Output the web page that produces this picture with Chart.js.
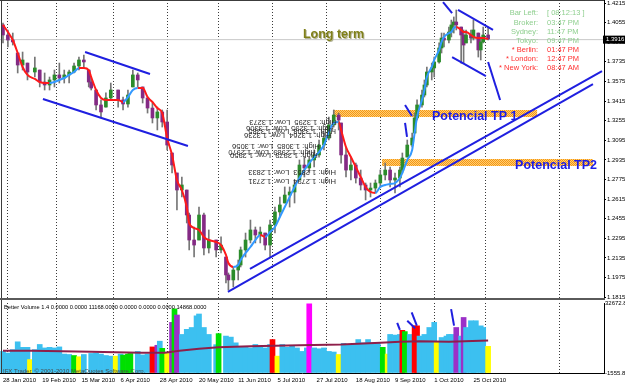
<!DOCTYPE html>
<html lang="en">
<head>
<meta charset="UTF-8" />
<title>EURUSD Daily</title>
<style>
  * { box-sizing: border-box; margin: 0; padding: 0; }
  html, body { width: 625px; height: 387px; background: #fff; overflow: hidden; }
  #price-wrap { position: absolute; left: 0; top: 0; width: 625px; height: 300px; }
  #vol-wrap { position: absolute; left: 0; top: 300px; width: 625px; height: 87px; }
</style>
<script src="https://cdn.jsdelivr.net/npm/chart.js@4/dist/chart.umd.min.js"></script>
</head>
<body>
<div id="price-wrap"><canvas id="priceChart" width="625" height="300"></canvas></div>
<div id="vol-wrap"><canvas id="volChart" width="625" height="87"></canvas></div>
<script>
  // --- price bars (day index from 28 Jan 2010) ---
  const days = [0, 2, 4, 6, 8, 10, 13, 15, 17, 19,
    21, 23, 25, 27, 29, 31, 33, 35, 36, 38,
    40, 42, 44, 47, 49, 51, 53, 55, 57, 59,
    61, 63, 65, 67, 69, 71, 73, 75, 76, 78,
    80, 82, 84, 87, 89, 91, 92, 94, 96, 97,
    99, 101, 103, 105, 107, 109, 111, 113, 115, 117,
    119, 121, 123, 125, 127, 129, 131, 133, 135, 137,
    138, 140, 142, 144, 146, 148, 150, 152, 154, 156,
    158, 160, 162, 163, 165, 167, 168, 169, 171, 172,
    173, 175, 176, 178, 179, 180, 182, 183, 184, 185,
    187, 188, 189, 191, 192, 194, 195, 196, 198];
  const highs = [1.4052, 1.3995, 1.3970, 1.3807, 1.3815, 1.3725, 1.3774, 1.3668, 1.3644, 1.3611,
    1.3668, 1.3725, 1.3668, 1.3668, 1.3725, 1.3774, 1.3791, 1.3668, 1.3611, 1.3505,
    1.3424, 1.3481, 1.3562, 1.3505, 1.3448, 1.3505, 1.3668, 1.3644, 1.3530, 1.3448,
    1.3399, 1.3366, 1.3342, 1.3342, 1.2991, 1.2828, 1.2795, 1.2689, 1.2501, 1.2387,
    1.2550, 1.2501, 1.2363, 1.2281, 1.2306, 1.2142, 1.2012, 1.2061, 1.2118, 1.2224,
    1.2338, 1.2444, 1.2387, 1.2387, 1.2338, 1.2444, 1.2550, 1.2632, 1.2714, 1.2714,
    1.2771, 1.2934, 1.2958, 1.2958, 1.3016, 1.3097, 1.3154, 1.3285, 1.3342, 1.3317,
    1.3236, 1.3040, 1.2958, 1.2909, 1.2852, 1.2746, 1.2746, 1.2771, 1.2852, 1.2909,
    1.2877, 1.2828, 1.2877, 1.2991, 1.3097, 1.3154, 1.3317, 1.3424, 1.3505, 1.3587,
    1.3693, 1.3725, 1.3774, 1.3889, 1.3970, 1.3970, 1.4019, 1.4076, 1.4101, 1.4158,
    1.4019, 1.3995, 1.3995, 1.3995, 1.4076, 1.3970, 1.3938, 1.4019, 1.4019];
  const lows = [1.3889, 1.3856, 1.3872, 1.3644, 1.3668, 1.3587, 1.3611, 1.3530, 1.3505, 1.3505,
    1.3530, 1.3562, 1.3562, 1.3562, 1.3644, 1.3668, 1.3685, 1.3530, 1.3505, 1.3342,
    1.3277, 1.3366, 1.3424, 1.3366, 1.3342, 1.3366, 1.3530, 1.3530, 1.3399, 1.3317,
    1.3236, 1.3179, 1.3203, 1.3016, 1.2828, 1.2526, 1.2632, 1.2420, 1.2200, 1.2142,
    1.2281, 1.2159, 1.2175, 1.2142, 1.2175, 1.1930, 1.1873, 1.1898, 1.1955, 1.2061,
    1.2142, 1.2257, 1.2257, 1.2257, 1.2200, 1.2142, 1.2338, 1.2469, 1.2583, 1.2550,
    1.2583, 1.2771, 1.2795, 1.2828, 1.2877, 1.2958, 1.3016, 1.3097, 1.3203, 1.3179,
    1.2909, 1.2795, 1.2771, 1.2746, 1.2689, 1.2608, 1.2632, 1.2665, 1.2714, 1.2771,
    1.2714, 1.2665, 1.2714, 1.2828, 1.2958, 1.3040, 1.3154, 1.3260, 1.3366, 1.3448,
    1.3530, 1.3587, 1.3611, 1.3725, 1.3807, 1.3856, 1.3889, 1.3938, 1.3970, 1.3995,
    1.3725, 1.3725, 1.3889, 1.3889, 1.3913, 1.3774, 1.3750, 1.3889, 1.3913];
  const closes = [1.3954, 1.3913, 1.3897, 1.3709, 1.3750, 1.3652, 1.3685, 1.3570, 1.3546, 1.3587,
    1.3628, 1.3603, 1.3628, 1.3652, 1.3701, 1.3750, 1.3734, 1.3570, 1.3521, 1.3383,
    1.3326, 1.3440, 1.3505, 1.3424, 1.3391, 1.3464, 1.3628, 1.3587, 1.3440, 1.3358,
    1.3277, 1.3326, 1.3244, 1.3056, 1.2893, 1.2689, 1.2730, 1.2485, 1.2281, 1.2240,
    1.2485, 1.2216, 1.2281, 1.2200, 1.2240, 1.1996, 1.1955, 1.2036, 1.2077, 1.2200,
    1.2281, 1.2363, 1.2322, 1.2346, 1.2240, 1.2404, 1.2510, 1.2567, 1.2648, 1.2673,
    1.2730, 1.2893, 1.2869, 1.2934, 1.2975, 1.3056, 1.3113, 1.3220, 1.3301, 1.3260,
    1.2975, 1.2852, 1.2893, 1.2787, 1.2730, 1.2689, 1.2705, 1.2746, 1.2812, 1.2852,
    1.2771, 1.2787, 1.2852, 1.2950, 1.3056, 1.3113, 1.3277, 1.3383, 1.3464, 1.3546,
    1.3652, 1.3685, 1.3734, 1.3848, 1.3929, 1.3913, 1.3978, 1.4036, 1.4060, 1.4036,
    1.3954, 1.3872, 1.3954, 1.3929, 1.3995, 1.3832, 1.3897, 1.3954, 1.3921];
  const firstOpen = 1.4036;
  // moving average (red while falling, blue while rising)
  const maValues = [1.4036, 1.3978, 1.3913, 1.3807, 1.3693, 1.3628, 1.3595, 1.3570, 1.3562, 1.3562,
    1.3570, 1.3587, 1.3603, 1.3628, 1.3652, 1.3685, 1.3685, 1.3668, 1.3611, 1.3505,
    1.3440, 1.3424, 1.3424, 1.3424, 1.3407, 1.3448, 1.3505, 1.3521, 1.3521, 1.3448,
    1.3407, 1.3358, 1.3317, 1.3113, 1.2975, 1.2771, 1.2689, 1.2550, 1.2420, 1.2379,
    1.2363, 1.2306, 1.2281, 1.2265, 1.2240, 1.2159, 1.2093, 1.2061, 1.2077, 1.2118,
    1.2175, 1.2224, 1.2281, 1.2322, 1.2306, 1.2346, 1.2387, 1.2469, 1.2550, 1.2632,
    1.2714, 1.2787, 1.2852, 1.2909, 1.2958, 1.2999, 1.3056, 1.3162, 1.3236, 1.3244,
    1.3179, 1.3040, 1.2958, 1.2877, 1.2795, 1.2714, 1.2673, 1.2665, 1.2714, 1.2730,
    1.2738, 1.2746, 1.2787, 1.2828, 1.2934, 1.3016, 1.3154, 1.3285, 1.3424, 1.3505,
    1.3611, 1.3693, 1.3750, 1.3832, 1.3897, 1.3938, 1.3970, 1.3978, 1.4011, 1.4019,
    1.3995, 1.3978, 1.3978, 1.3954, 1.3938, 1.3929, 1.3929, 1.3929, 1.3921];
  const bidPrice = 1.3916;

  // axis ticks
  const priceTicks = [1.4215, 1.4055, 1.3895, 1.3735, 1.3575, 1.3415, 1.3255, 1.3095,
    1.2935, 1.2775, 1.2615, 1.2455, 1.2295, 1.2135, 1.1975, 1.1815];
  const monthStarts = [2, 22, 45, 67, 88, 110, 132, 154, 176, 197, 227];
  const labelDays = [0, 16, 32, 48, 64, 80, 96, 112, 128, 144, 160, 176, 192];
  const dateLabels = ['28 Jan 2010', '19 Feb 2010', '15 Mar 2010', '6 Apr 2010', '28 Apr 2010',
    '20 May 2010', '11 Jun 2010', '5 Jul 2010', '27 Jul 2010', '18 Aug 2010', '9 Sep 2010',
    '1 Oct 2010', '25 Oct 2010'];

  // hand drawn objects: [day, price]
  const trendStart = [[33.5, 1.3815], [16.3, 1.3432], [91.8, 1.1857], [100.8, 1.2045], [164.1, 1.3383],
    [164.1, 1.3236], [179.6, 1.4223], [198.0, 1.3734], [185.7, 1.4158], [183.3, 1.3774]];
  const trendEnd = [[60.0, 1.3636], [75.5, 1.3048], [240.8, 1.3554], [244.5, 1.3660], [166.9, 1.3293],
    [164.9, 1.3122], [183.3, 1.4133], [202.9, 1.3424], [200.0, 1.3995], [197.1, 1.3619]];
  const bandPrices = [1.3313, 1.2914];
  const bandFrom = [134.7, 154.7];
  const bandTo = [218.0, 240.8];
  const noteTexts = ['Long term', 'Potencial TP 1', 'Potencial TP2'];
  const noteDays = [122.4, 175.1, 209.0];
  const notePrices = [1.3958, 1.3285, 1.2885];
  const mirrorTexts = ['High: 1.3295  Low: 1.3273', 'High: 1.3295  Low: 1.3306', 'High: 1.3308  Low: 1.3285',
    'High: 1.3264  Low: 1.3236', 'High: 1.3085  Low: 1.3056', 'High: 1.2989  Low: 1.2970',
    'High: 1.2979  Low: 1.2950', 'High: 1.2853  Low: 1.2833', 'High: 1.2794  Low: 1.2731'];
  const mirrorDays = [118.4, 117.1, 118.0, 116.3, 111.4, 109.8, 110.6, 118.0, 118.0];
  const mirrorPrices = [1.3244, 1.3195, 1.3171, 1.3138, 1.3048, 1.2999, 1.2975, 1.2836, 1.2763];
  const infoLabels = ['Bar Left:', 'Broker:', 'Sydney:', 'Tokyo:', '* Berlin:', '* London:', '* New York:'];
  const infoValues = ['[ 08:12:13 ]', '03:47 PM', '11:47 PM', '09:47 PM', '01:47 PM', '12:47 PM', '08:47 AM'];

  // --- Better Volume sub window ---
  const volDays = [0, 2, 4, 6, 8, 10, 11, 13, 15, 17,
    19, 21, 23, 25, 27, 29, 31, 33, 36, 38,
    40, 42, 44, 46, 48, 49, 51, 52, 55, 57,
    59, 61, 63, 64, 65, 67, 69, 70, 71, 73,
    75, 77, 79, 80, 82, 84, 87, 88, 91, 93,
    95, 97, 99, 101, 103, 105, 107, 109, 110, 112,
    114, 116, 118, 120, 122, 124, 125, 127, 129, 131,
    133, 135, 137, 139, 141, 143, 145, 147, 149, 151,
    153, 155, 157, 158, 160, 162, 163, 164, 166, 168,
    169, 170, 172, 174, 176, 177, 179, 181, 182, 183,
    185, 187, 188, 189, 191, 192, 193, 195, 196, 198];
  const volumes = [9000, 8200, 9900, 13700, 11000, 11000, 5000, 9900, 12400, 10700,
    11000, 10700, 11200, 7700, 7500, 7000, 6400, 7500, 8000, 8200,
    7700, 7000, 6700, 6700, 7700, 7200, 7700, 8000, 9000, 7300,
    7700, 11200, 12000, 14000, 10500, 8000, 23200, 29800, 26800, 17300,
    19800, 20700, 26400, 27300, 20700, 17300, 12300, 17700, 16500, 16000,
    13200, 11500, 11000, 10700, 12400, 11500, 10700, 12400, 14800, 6700,
    12400, 11000, 11500, 10700, 9000, 10700, 32270, 10700, 10300, 10700,
    9000, 8700, 7500, 12900, 12400, 12400, 14800, 13200, 14800, 13200,
    13200, 11000, 7700, 17300, 17000, 17300, 19300, 18700, 17300, 21500,
    21500, 16500, 17300, 20700, 23200, 13900, 15800, 16500, 17300, 17300,
    20700, 16500, 25600, 20700, 24000, 20700, 24000, 21500, 20700, 11500];
  // b normal, y low volume, g, r climax, p churn, m climax high
  const volKinds = ['b', 'b', 'b', 'b', 'b', 'b', 'y', 'b', 'b', 'b',
    'b', 'b', 'b', 'b', 'b', 'g', 'y', 'b', 'b', 'b',
    'b', 'b', 'b', 'y', 'b', 'g', 'g', 'g', 'b', 'b',
    'b', 'r', 'p', 'b', 'g', 'y', 'p', 'g', 'p', 'b',
    'b', 'b', 'b', 'b', 'b', 'b', 'b', 'g', 'b', 'b',
    'b', 'b', 'b', 'b', 'b', 'b', 'b', 'b', 'r', 'y',
    'b', 'b', 'b', 'b', 'b', 'b', 'm', 'b', 'b', 'b',
    'b', 'b', 'y', 'b', 'b', 'b', 'b', 'b', 'b', 'b',
    'b', 'g', 'y', 'b', 'b', 'b', 'r', 'g', 'b', 'r',
    'r', 'b', 'b', 'b', 'b', 'y', 'b', 'b', 'b', 'b',
    'p', 'b', 'p', 'b', 'b', 'b', 'b', 'b', 'b', 'y'];
  const volMaDays = [0, 12, 36, 56, 66, 72, 80, 88, 101, 121, 138, 154, 162, 170, 182, 198];
  const volMaValues = [9360, 9360, 8860, 8370, 8370, 9360, 10360, 11000, 11500, 12000, 12350, 13200, 13700, 14000, 13700, 14300];
  const volTicks = [32672.85, -1555.85];
  const volTrendStart = [[160.9, 23000], [165.0, 24000], [166.8, 28100], [182.9, 29700]];
  const volTrendEnd = [[162.0, 19500], [168.2, 20300], [168.9, 21600], [184.1, 21600]];
  const volTitle = 'Better Volume 1.4 0.0000 0.0000 11168.0000 0.0000 0.0000 0.0000 14868.0000';
  const copyright = 'IFX Trader, \u00a9 2001-2010 MetaQuotes Software Corp.';

  // scale ranges (2.45 px per day, 0.000816 per px)
  const X_MIN = -1.22, X_MAX = 245.3;
  const P_MAX = 1.42395, P_MIN = 1.18078;
  const VOL_MIN = -1555.85, VOL_MAX = 32672.85;

  const FONT = '"Liberation Sans", Arial, sans-serif';
  Chart.defaults.font.family = FONT;
  Chart.defaults.animation = false;

  const volColors = { b: '#3cc0f0', y: '#ffff00', g: '#00e000', r: '#ff0000', p: '#9b30c8', m: '#ff00ff' };

  // orange hatched band
  const pc = document.createElement('canvas');
  pc.width = 2; pc.height = 2;
  const pctx = pc.getContext('2d');
  pctx.fillStyle = '#ffd070'; pctx.fillRect(0, 0, 2, 2);
  pctx.fillStyle = '#f59416'; pctx.fillRect(0, 0, 1, 1); pctx.fillRect(1, 1, 1, 1);
  const priceCtx = document.getElementById('priceChart').getContext('2d');
  const bandPattern = priceCtx.createPattern(pc, 'repeat');

  const wickData = days.map((d, i) => ({ x: d, y: [lows[i], highs[i]] }));
  // open taken as previous close, kept inside the bar's range
  const bodyData = days.map((d, i) => {
    const open = i === 0 ? firstOpen : closes[i - 1];
    const o = Math.min(Math.max(open, lows[i]), highs[i]);
    return { x: d, y: [o, closes[i]] };
  });
  const bodyColors = bodyData.map(b => b.y[1] >= b.y[0] ? '#2b8c2b' : '#842a84');

  const lineBase = { type: 'line', pointRadius: 0, fill: false, xAxisID: 'x', yAxisID: 'y' };

  const trendSets = trendStart.map((s, i) => ({
    ...lineBase,
    data: [{ x: s[0], y: s[1] }, { x: trendEnd[i][0], y: trendEnd[i][1] }],
    borderColor: '#1f1fe0', borderWidth: 2, order: 0
  }));
  const bandSets = bandPrices.map((p, i) => ({
    ...lineBase,
    data: [{ x: bandFrom[i], y: p }, { x: bandTo[i], y: p }],
    borderColor: bandPattern, borderWidth: 7, order: 6
  }));

  const priceOverlay = {
    id: 'priceOverlay',
    afterDraw(chart) {
      const { ctx, chartArea: a, scales: { x, y } } = chart;
      ctx.save();
      // frame + separator
      ctx.fillStyle = '#3c3c3c';
      ctx.fillRect(0, 0, a.right, 1);
      ctx.fillRect(1, 0, 1, a.bottom);
      ctx.fillStyle = '#5a5a5a';
      ctx.fillRect(0, a.bottom, a.right + 1, 2);

      ctx.textBaseline = 'middle';
      // upside down high/low labels
      ctx.font = '7.5px ' + FONT;
      ctx.fillStyle = '#2a2a2a';
      ctx.textAlign = 'center';
      mirrorTexts.forEach((t, i) => {
        ctx.save();
        ctx.translate(x.getPixelForValue(mirrorDays[i]), y.getPixelForValue(mirrorPrices[i]));
        ctx.rotate(Math.PI);
        ctx.fillText(t, 0, 0);
        ctx.restore();
      });

      // text objects
      ctx.textAlign = 'left';
      ctx.font = 'bold 12.5px ' + FONT;
      noteTexts.forEach((t, i) => {
        const px = x.getPixelForValue(noteDays[i]);
        const py = y.getPixelForValue(notePrices[i]);
        if (i === 0) {
          ctx.fillStyle = '#b5b59a';
          ctx.fillText(t, px + 1, py + 1);
          ctx.fillStyle = '#80801a';
        } else {
          ctx.fillStyle = '#1c1ce6';
        }
        ctx.fillText(t, px, py);
      });

      // clock panel
      ctx.font = '7.5px ' + FONT;
      infoLabels.forEach((t, i) => {
        const yy = 13.3 + i * 9.17;
        ctx.fillStyle = i < 4 ? '#8fcf8f' : '#ff3030';
        ctx.textAlign = 'right';
        ctx.fillText(t, 538, yy);
        ctx.textAlign = 'left';
        ctx.fillText(infoValues[i], 547, yy);
      });

      // bid label on the price axis
      const by = y.getPixelForValue(bidPrice);
      ctx.fillStyle = '#000';
      ctx.fillRect(a.right - 1, by - 4, 22, 8);
      ctx.fillStyle = '#fff';
      ctx.font = '6px ' + FONT;
      ctx.fillText(bidPrice.toFixed(4), a.right + 2, by);
      ctx.restore();
    }
  };

  new Chart(priceCtx, {
    type: 'bar',
    data: {
      datasets: [
        ...trendSets,
        {
          ...lineBase,
          data: days.map((d, i) => ({ x: d, y: maValues[i] })),
          borderWidth: 2, cubicInterpolationMode: 'monotone', order: 1,
          borderColor: '#ff1a1a',
          segment: { borderColor: c => c.p1.parsed.y > c.p0.parsed.y ? '#3399ff' : '#ff1a1a' }
        },
        { type: 'bar', data: bodyData, backgroundColor: bodyColors, barThickness: 3, grouped: false, order: 3, xAxisID: 'x', yAxisID: 'y' },
        { type: 'bar', data: wickData, backgroundColor: '#767676', barThickness: 1, grouped: false, order: 4, xAxisID: 'x', yAxisID: 'y' },
        ...bandSets,
        { ...lineBase, data: [{ x: X_MIN, y: bidPrice }, { x: X_MAX, y: bidPrice }], borderColor: '#c8c8c8', borderWidth: 1, order: 7 }
      ]
    },
    options: {
      responsive: false,
      layout: { padding: 0 },
      events: [],
      plugins: { legend: { display: false }, tooltip: { enabled: false } },
      scales: {
        x: {
          type: 'linear', min: X_MIN, max: X_MAX, offset: false, position: 'bottom',
          afterBuildTicks: s => { s.ticks = monthStarts.map(v => ({ value: v })); },
          afterFit: s => { s.height = 2; s.paddingLeft = 0; s.paddingRight = 0; },
          ticks: { display: false },
          grid: { color: '#3a3a3a', drawTicks: false, offset: false },
          border: { display: false, dash: [1, 2] }
        },
        y: {
          type: 'linear', position: 'right', min: P_MIN, max: P_MAX,
          afterBuildTicks: s => { s.ticks = priceTicks.map(v => ({ value: v })); },
          afterFit: s => { s.width = 21; s.paddingTop = 0; s.paddingBottom = 0; },
          ticks: { autoSkip: false, padding: 1, color: '#000', font: { size: 6 }, callback: v => v.toFixed(4) },
          grid: { drawOnChartArea: false, tickLength: 2, color: '#000' },
          border: { color: '#000' }
        }
      }
    },
    plugins: [priceOverlay]
  });

  // --- volume chart ---
  const volOverlay = {
    id: 'volOverlay',
    afterDraw(chart) {
      const { ctx, chartArea: a } = chart;
      ctx.save();
      ctx.fillStyle = '#3c3c3c';
      ctx.fillRect(1, 0, 1, a.bottom);
      ctx.textBaseline = 'middle';
      ctx.textAlign = 'left';
      ctx.font = '5.7px ' + FONT;
      ctx.fillStyle = '#000';
      ctx.fillText(volTitle, 4, 7);
      ctx.font = '6px ' + FONT;
      ctx.fillStyle = '#4a4a4a';
      ctx.fillText(copyright, 3, a.bottom - 2);
      ctx.restore();
    }
  };

  const volLine = { type: 'line', pointRadius: 0, fill: false, xAxisID: 'x', yAxisID: 'y' };

  new Chart(document.getElementById('volChart'), {
    type: 'bar',
    data: {
      datasets: [
        ...volTrendStart.map((s, i) => ({
          ...volLine,
          data: [{ x: s[0], y: s[1] }, { x: volTrendEnd[i][0], y: volTrendEnd[i][1] }],
          borderColor: '#1f1fe0', borderWidth: 2, order: 0
        })),
        {
          ...volLine,
          data: volMaDays.map((d, i) => ({ x: d, y: volMaValues[i] })),
          borderColor: '#8e1f4a', borderWidth: 2, order: 1
        },
        {
          type: 'bar',
          data: volDays.map((d, i) => ({ x: d, y: volumes[i] })),
          backgroundColor: volKinds.map(k => volColors[k]),
          base: VOL_MIN, barThickness: 5, grouped: false, order: 2, xAxisID: 'x', yAxisID: 'y'
        }
      ]
    },
    options: {
      responsive: false,
      layout: { padding: { top: 3 } },
      events: [],
      plugins: { legend: { display: false }, tooltip: { enabled: false } },
      scales: {
        x: {
          type: 'linear', min: X_MIN, max: X_MAX, offset: false, position: 'bottom',
          afterBuildTicks: s => { s.ticks = labelDays.map(v => ({ value: v })); },
          afterFit: s => { s.height = 14; s.paddingLeft = 0; s.paddingRight = 0; },
          ticks: {
            autoSkip: false, maxRotation: 0, minRotation: 0, align: 'start', padding: 4,
            color: '#000', font: { size: 6 }, callback: (v, i) => dateLabels[i]
          },
          grid: { display: false, drawTicks: false },
          border: { display: true, color: '#000' }
        },
        xm: {
          type: 'linear', min: X_MIN, max: X_MAX, offset: false, position: 'top',
          afterBuildTicks: s => { s.ticks = monthStarts.map(v => ({ value: v })); },
          afterFit: s => { s.height = 0; s.paddingLeft = 0; s.paddingRight = 0; },
          ticks: { display: false },
          grid: { color: '#3a3a3a', drawTicks: false, offset: false },
          border: { display: false, dash: [1, 2] }
        },
        y: {
          type: 'linear', position: 'right', min: VOL_MIN, max: VOL_MAX,
          afterBuildTicks: s => { s.ticks = volTicks.map(v => ({ value: v })); },
          afterFit: s => { s.width = 21; s.paddingTop = 0; s.paddingBottom = 0; },
          ticks: { autoSkip: false, padding: 1, color: '#000', font: { size: 6 }, callback: v => v.toFixed(2) },
          grid: { drawOnChartArea: false, drawTicks: false },
          border: { color: '#000' }
        }
      }
    },
    plugins: [volOverlay]
  });
</script>
</body>
</html>
